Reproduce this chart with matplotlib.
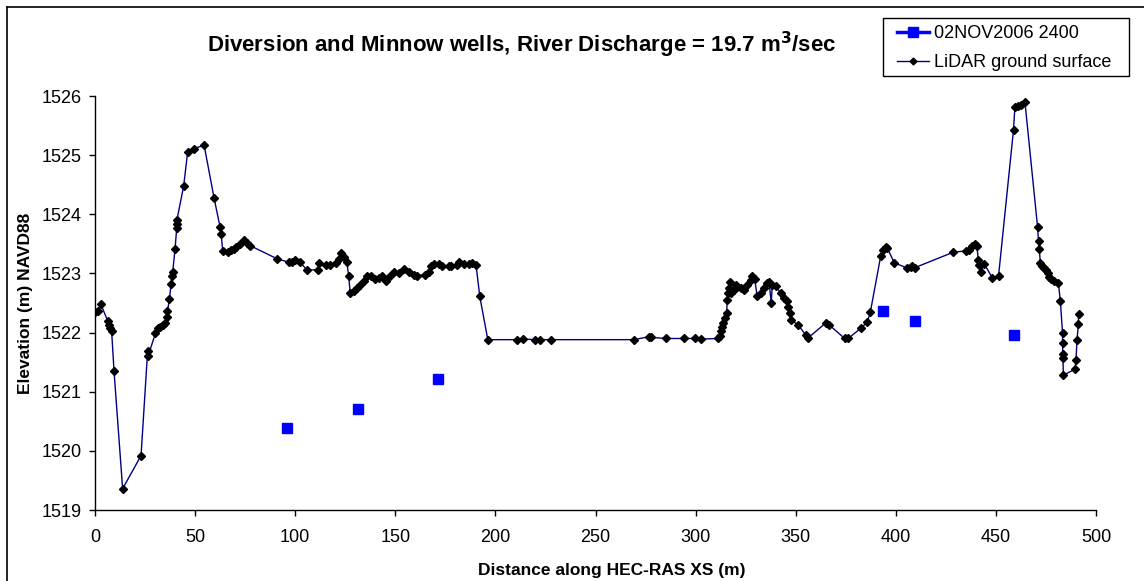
"""Diversion and Minnow wells cross-section: well water levels vs LiDAR ground surface."""

import matplotlib

matplotlib.use("Agg")
import matplotlib.pyplot as plt
from matplotlib.lines import Line2D
from matplotlib.patches import Rectangle

plt.rcParams["font.family"] = ["Liberation Sans", "DejaVu Sans"]

# Well water levels (02NOV2006 2400)
well_dist = [95.8, 131.5, 171.2, 393.8, 409.5, 458.8]
well_elev = [1520.39, 1520.70, 1521.21, 1522.36, 1522.20, 1521.96]

# LiDAR ground surface along the HEC-RAS cross section
lidar_dist = [
    0.0, 1.7, 2.8, 6.3, 7.0, 7.5, 8.3, 9.5, 13.8, 23.0,
    26.3, 26.5, 30.2, 31.5, 32.7, 34.0, 35.2, 35.8, 36.2, 37.2,
    38.0, 38.3, 38.8, 40.0, 40.8, 40.8, 40.9, 44.3, 46.3, 49.5,
    54.5, 59.5, 62.5, 63.0, 63.8, 66.5, 68.0, 69.2, 70.5, 72.5,
    74.5, 76.0, 77.5, 90.8, 96.7, 98.3, 99.7, 102.2, 105.8, 111.2,
    112.0, 115.5, 117.5, 120.3, 121.7, 122.8, 124.2, 125.8, 126.7, 127.5,
    129.2, 130.8, 132.5, 134.2, 135.8, 137.8, 140.0, 141.7, 143.3, 145.3,
    147.5, 149.2, 151.7, 154.2, 156.7, 159.2, 160.8, 165.0, 166.7, 167.8,
    169.2, 171.7, 173.3, 176.7, 177.8, 180.8, 182.0, 184.2, 186.7, 188.3,
    190.3, 192.2, 196.2, 210.8, 213.7, 220.0, 222.5, 228.0, 269.2, 276.7,
    277.5, 285.0, 294.2, 299.5, 302.8, 311.3, 312.2, 312.8, 313.3, 313.8,
    314.5, 315.5, 315.8, 316.2, 316.7, 317.2, 317.8, 319.2, 320.0, 322.5,
    324.2, 325.8, 327.5, 328.3, 329.5, 330.8, 332.5, 334.2, 335.5, 336.7,
    337.8, 338.3, 340.0, 342.5, 344.2, 345.5, 346.2, 347.2, 347.5, 351.2,
    355.0, 356.2, 365.3, 366.7, 374.5, 376.2, 382.8, 385.8, 387.3, 392.5,
    393.8, 395.0, 395.8, 399.2, 405.8, 407.5, 408.3, 409.7, 428.8, 435.0,
    436.7, 438.3, 439.5, 440.5, 441.2, 441.7, 442.5, 444.2, 448.3, 451.3,
    458.8, 459.5, 460.8, 462.5, 464.5, 470.8, 471.3, 471.7, 472.2, 472.8,
    473.8, 475.0, 475.8, 476.7, 477.5, 479.2, 481.2, 482.2, 483.3, 483.3,
    483.4, 483.5, 483.7, 489.5, 490.0, 490.5, 491.2, 491.3,
]
lidar_elev = [
    1522.34, 1522.36, 1522.49, 1522.20, 1522.13, 1522.08, 1522.03, 1521.35, 1519.36, 1519.92,
    1521.69, 1521.60, 1521.99, 1522.07, 1522.10, 1522.13, 1522.17, 1522.27, 1522.36, 1522.57,
    1522.82, 1522.95, 1523.02, 1523.42, 1523.76, 1523.83, 1523.90, 1524.48, 1525.06, 1525.11,
    1525.17, 1524.27, 1523.78, 1523.67, 1523.38, 1523.36, 1523.39, 1523.42, 1523.45, 1523.50,
    1523.56, 1523.52, 1523.47, 1523.25, 1523.19, 1523.20, 1523.22, 1523.20, 1523.06, 1523.06,
    1523.17, 1523.14, 1523.15, 1523.17, 1523.24, 1523.34, 1523.28, 1523.20, 1522.95, 1522.67,
    1522.71, 1522.75, 1522.81, 1522.88, 1522.95, 1522.95, 1522.90, 1522.92, 1522.95, 1522.88,
    1522.95, 1523.02, 1523.00, 1523.07, 1523.03, 1522.98, 1522.96, 1522.98, 1523.02, 1523.12,
    1523.16, 1523.16, 1523.12, 1523.13, 1523.12, 1523.15, 1523.20, 1523.16, 1523.16, 1523.17,
    1523.15, 1522.61, 1521.88, 1521.88, 1521.89, 1521.88, 1521.88, 1521.88, 1521.88, 1521.93,
    1521.92, 1521.90, 1521.90, 1521.90, 1521.89, 1521.90, 1521.95, 1522.02, 1522.10, 1522.17,
    1522.24, 1522.33, 1522.55, 1522.67, 1522.75, 1522.86, 1522.67, 1522.72, 1522.81, 1522.75,
    1522.72, 1522.81, 1522.89, 1522.95, 1522.90, 1522.61, 1522.67, 1522.75, 1522.84, 1522.85,
    1522.50, 1522.81, 1522.78, 1522.67, 1522.58, 1522.53, 1522.44, 1522.33, 1522.22, 1522.13,
    1521.96, 1521.91, 1522.17, 1522.13, 1521.90, 1521.90, 1522.08, 1522.18, 1522.35, 1523.30,
    1523.40, 1523.44, 1523.43, 1523.18, 1523.09, 1523.11, 1523.12, 1523.10, 1523.36, 1523.38,
    1523.39, 1523.47, 1523.50, 1523.47, 1523.23, 1523.15, 1523.03, 1523.16, 1522.92, 1522.95,
    1525.43, 1525.82, 1525.83, 1525.85, 1525.90, 1523.79, 1523.54, 1523.41, 1523.17, 1523.12,
    1523.10, 1523.05, 1523.00, 1522.94, 1522.90, 1522.87, 1522.84, 1522.53, 1521.99, 1521.83,
    1521.63, 1521.57, 1521.28, 1521.38, 1521.53, 1521.87, 1522.14, 1522.32,
]

x_ticks = [0, 50, 100, 150, 200, 250, 300, 350, 400, 450, 500]
y_ticks = [1519, 1520, 1521, 1522, 1523, 1524, 1525, 1526]

W, H = 1144, 581


def fx(px):
    return px / W


def fy(py):
    return 1 - py / H


fig = plt.figure(figsize=(W / 100, H / 100), dpi=100)
ax = fig.add_axes([fx(95), fy(510), (1096 - 95) / W, (510 - 96) / H])

# Ground surface line with diamond markers
ax.plot(lidar_dist, lidar_elev, color="#000080", linewidth=1.0,
        marker="D", markersize=4.2, markerfacecolor="black", markeredgecolor="black",
        zorder=2)
# Well levels as squares only
ax.plot(well_dist, well_elev, linestyle="none", marker="s", markersize=7,
        color="#0000FF", zorder=3)

ax.set_xlim(0, 500)
ax.set_ylim(1519, 1526)
ax.set_xticks(x_ticks)
ax.set_yticks(y_ticks)
ax.tick_params(axis="both", direction="out", length=4.5, width=1, labelsize=13)
ax.tick_params(axis="y", pad=5)
ax.tick_params(axis="x", pad=9)
ax.spines["top"].set_visible(False)
ax.spines["right"].set_visible(False)
for side in ("left", "bottom"):
    ax.spines[side].set_linewidth(1.0)

# Axis titles and chart title
fig.text(fx(612), fy(570), "Distance along HEC-RAS XS (m)",
         ha="center", va="center", fontsize=12.5, fontweight="bold")
fig.text(fx(26), fy(303), "Elevation (m) NAVD88", rotation=90,
         ha="center", va="center", fontsize=12.5, fontweight="bold")
fig.text(fx(522), fy(45),
         "Diversion and Minnow wells, River Discharge = 19.7 m$^\\mathbf{3}$/sec",
         ha="center", va="center", fontsize=16, fontweight="bold")

# Legend: Excel shows a line through the well marker even though points are not joined
handles = [
    Line2D([], [], color="#0000FF", linewidth=2.5, marker="s", markersize=6.5),
    Line2D([], [], color="#000080", linewidth=1.0, marker="D", markersize=3.5,
           markerfacecolor="black", markeredgecolor="black"),
]
labels = ["02NOV2006 2400", "LiDAR ground surface"]
fig.legend(handles, labels, loc="upper left", bbox_to_anchor=(fx(897), fy(25)),
           fontsize=13, frameon=False, borderpad=0, borderaxespad=0,
           handlelength=1.75, handletextpad=0.3, labelspacing=0.68)
fig.add_artist(Rectangle((fx(883), fy(76)), (1129 - 883) / W, (76 - 18) / H,
                         transform=fig.transFigure, fill=False,
                         edgecolor="black", linewidth=1.0))

# Outer chart border (left and top edges visible)
fig.add_artist(Line2D([fx(7), fx(7)], [0, fy(7)], color="black", linewidth=1.2))
fig.add_artist(Line2D([fx(7), 1], [fy(7), fy(7)], color="black", linewidth=1.2))

fig.savefig("out.png", dpi=100)
